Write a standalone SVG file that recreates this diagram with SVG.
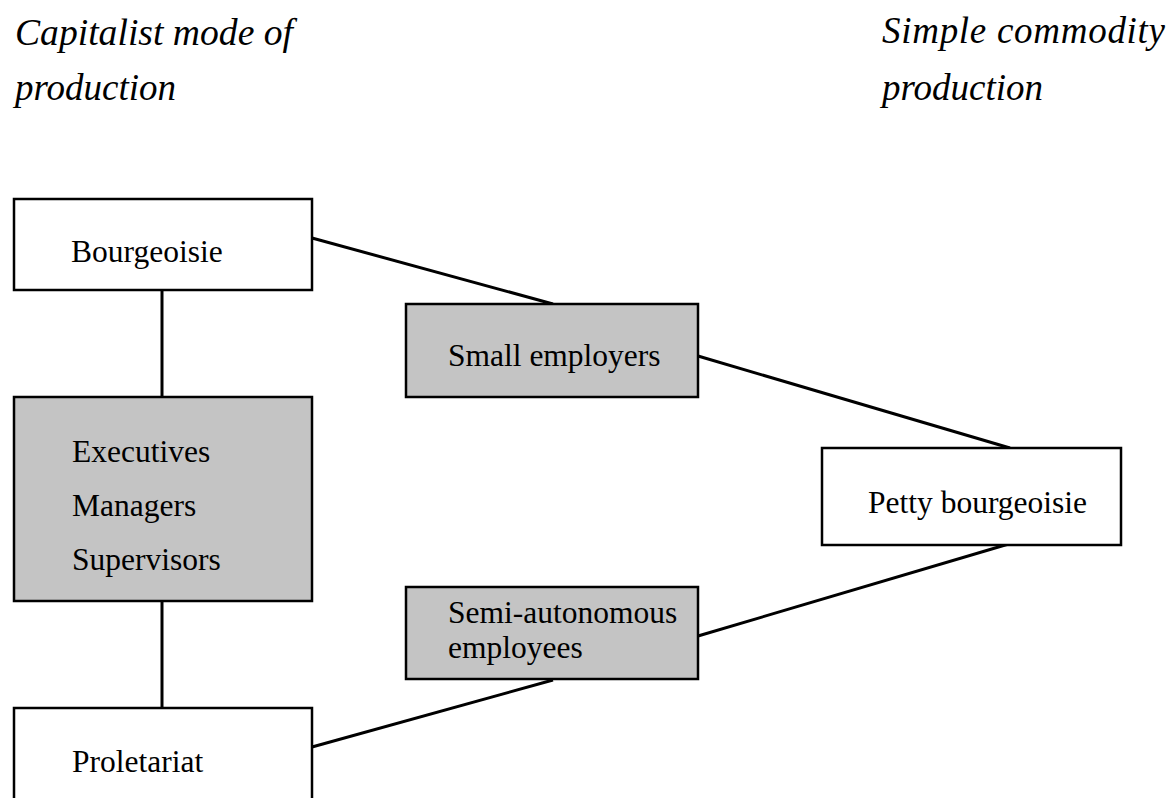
<svg xmlns="http://www.w3.org/2000/svg" width="1173" height="798" viewBox="0 0 1173 798">
<style>
.box{fill:#ffffff;stroke:#000;stroke-width:2.5}
.grey{fill:#c4c4c4;stroke:#000;stroke-width:2.5}
.lbl{font-family:"Liberation Serif","Times New Roman",serif;font-size:31.5px;fill:#000}
.ttl{font-family:"Liberation Serif","Times New Roman",serif;font-size:37px;font-style:italic;fill:#000}
.conn{stroke:#000;stroke-width:3;fill:none}
</style>
<rect width="1173" height="798" fill="#fff"/>
<g id="titles">
<text class="ttl" x="15" y="45" textLength="278" lengthAdjust="spacingAndGlyphs">Capitalist mode of</text>
<text class="ttl" x="15" y="100">production</text>
<text class="ttl" x="882" y="43" textLength="283" lengthAdjust="spacing">Simple commodity</text>
<text class="ttl" x="882" y="100">production</text>
</g>
<g id="connectors">
<line class="conn" x1="162" y1="290" x2="162" y2="397"/>
<line class="conn" x1="162" y1="601" x2="162" y2="708"/>
<line class="conn" x1="312" y1="238" x2="553" y2="304"/>
<line class="conn" x1="698" y1="356" x2="1010" y2="448"/>
<line class="conn" x1="1012" y1="543" x2="698" y2="636"/>
<line class="conn" x1="553" y1="680" x2="312" y2="747"/>
</g>
<g id="bourgeoisie">
<rect class="box" x="14" y="199" width="298" height="91"/>
<text class="lbl" x="71" y="262">Bourgeoisie</text>
</g>
<g id="managers">
<rect class="grey" x="14" y="397" width="298" height="204"/>
<text class="lbl" x="72" y="462">Executives</text>
<text class="lbl" x="72" y="516">Managers</text>
<text class="lbl" x="72" y="570">Supervisors</text>
</g>
<g id="proletariat">
<rect class="box" x="14" y="708" width="298" height="110"/>
<text class="lbl" x="72" y="772">Proletariat</text>
</g>
<g id="small-employers">
<rect class="grey" x="406" y="304" width="292" height="93"/>
<text class="lbl" x="448" y="366">Small employers</text>
</g>
<g id="semi-autonomous">
<rect class="grey" x="406" y="587" width="292" height="92"/>
<text class="lbl" x="448" y="623">Semi-autonomous</text>
<text class="lbl" x="448" y="658">employees</text>
</g>
<g id="petty-bourgeoisie">
<rect class="box" x="822" y="448" width="299" height="97"/>
<text class="lbl" x="868" y="513">Petty bourgeoisie</text>
</g>
</svg>
